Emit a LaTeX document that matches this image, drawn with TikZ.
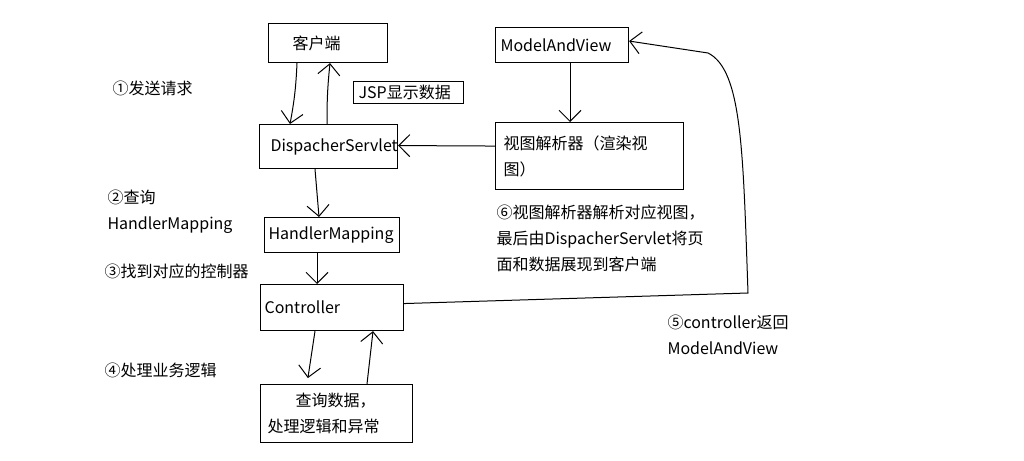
\documentclass[tikz,border=0pt]{standalone}
\usepackage{fontspec}
\setmainfont{Noto Sans CJK SC}
\usepackage{tikz}
\usetikzlibrary{positioning,arrows.meta}

\begin{document}
\begin{tikzpicture}[x=1pt, y=-1pt, line width=1pt,
    every node/.style={font=\fontsize{16}{26}\selectfont},
    box/.style={draw, line width=1.1pt, anchor=north west, align=left, inner ysep=0pt},
    note/.style={anchor=west, align=left, inner sep=0pt},
    flow/.style={-{Straight Barb[length=11pt, width=22pt, line width=1pt]}}]
    \useasboundingbox (0,0) rectangle (1024,460);
    % boxes
    \node [box, text width=71pt, inner xsep=24pt, minimum height=39pt] (client) at (268,23) {客户端};
    \node [box, text width=100pt, inner xsep=5pt, minimum height=22pt] (jsp) at (353,81) {JSP显示数据};
    \node [box, text width=116pt, inner xsep=11pt, minimum height=44pt] (disp) at (259,124) {DispacherServlet};
    \node [box, text width=123pt, inner xsep=5pt, minimum height=35pt] (mav) at (495,27) {ModelAndView};
    \node [box, text width=172pt, inner xsep=8pt, minimum height=67pt] (viewres) at (495,122) {视图解析器（渲染视\\图）};
    \node [box, text width=127pt, inner xsep=4pt, minimum height=35pt] (hm) at (264,217) {HandlerMapping};
    \node [box, text width=135pt, inner xsep=4pt, minimum height=46pt] (ctrl) at (260,284) {Controller};
    \node [box, text width=138pt, inner xsep=7pt, minimum height=58pt] (query) at (260,384) {\hspace*{28pt}查询数据，\\处理逻辑和异常};
    % step labels
    \node [note] (s1) at (112,88) {①发送请求};
    \node [note] (s2) at (107,212) {②查询\\HandlerMapping};
    \node [note] (s3) at (104,271) {③找到对应的控制器};
    \node [note] (s4) at (104,370) {④处理业务逻辑};
    \node [note] (s5) at (667,335) {⑤controller返回\\ModelAndView};
    \node [note] (s6) at (496,238) {⑥视图解析器解析对应视图，\\最后由DispacherServlet将页\\面和数据展现到客户端};
    % arrows
    \draw [flow] ([xshift=29pt]client.south west) to[bend left=4] ([xshift=31pt]disp.north west);
    \draw [flow] ([xshift=68pt]disp.north west) to[bend left=3] ([xshift=62pt]client.south west);
    \draw [flow] ([yshift=10pt]viewres.west) -- ([yshift=1pt]disp.east);
    \draw [flow] ([xshift=75pt]mav.south west) -- ([xshift=75pt]viewres.north west);
    \draw [flow] ([xshift=56pt]disp.south west) -- ([xshift=55pt]hm.north west);
    \draw [flow] ([xshift=53pt]hm.south west) -- ([xshift=57pt]ctrl.north west);
    \draw [flow, shorten >=6pt] ([xshift=55pt]ctrl.south west) -- ([xshift=47pt]query.north west);
    \draw [flow] ([xshift=107pt]query.north west) -- ([xshift=113pt]ctrl.south west);
    \draw [flow] ([yshift=4pt]ctrl.east) -- (748,293)
        .. controls (743,150) and (742,70) .. (708,53) -- ([yshift=4pt]mav.east);
\end{tikzpicture}
\end{document}
